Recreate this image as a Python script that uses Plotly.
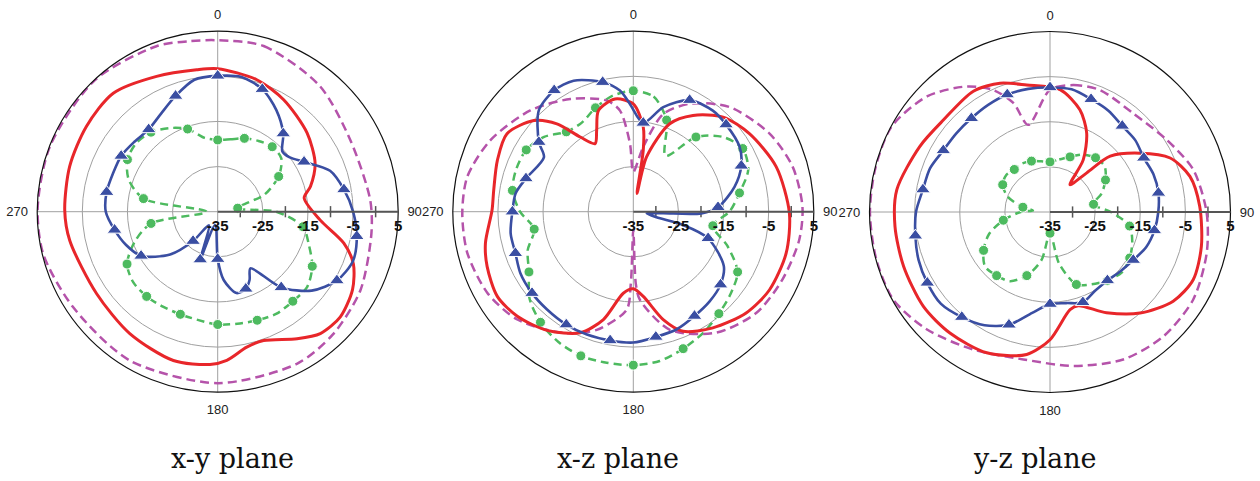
import plotly.graph_objects as go

# ---------------- data: x-y plane ----------------
XY_RED_THETA = [0, 16.5, 30.5, 48.6, 63.6, 74.8, 81, 94.7, 104, 111, 120, 130.6, 139.9, 148, 160.4, 167.9,
                176.5, 182.9, 196.6, 215.8, 236, 259, 270.6, 287, 303, 318.6, 335.7, 351.6, 360]
XY_RED_R = [-3.3, -4.5, -6.2, -8.6, -10.9, -13.7, -15.6, -12.2, -6.2, -2.8, -0.5, 0.8, 0.3, -1.8, -4.7, -4.3,
            -2.0, -1.1, -0.6, -1.7, -2.6, -1.6, -1.1, -0.7, -0.3, 0.0, -2.1, -3.2, -3.3]

XY_MAG_THETA = [0, 15.5, 39, 61.6, 85.6, 98, 118.8, 136.8, 152.5, 180, 210.6, 236.6, 256.6, 271.6, 291.4,
                317, 339.7, 350.8, 360]
XY_MAG_R = [3.0, 3.1, 0.9, -1.6, -1.1, -0.6, 1.1, 2.3, 3.0, 3.0, 3.3, 3.4, 4.8, 4.9, 4.9, 4.9, 4.1, 3.3, 3.0]

XY_BLUE_THETA = [0, 10, 20, 30, 40, 47, 53, 60, 70, 80, 90, 100, 110, 120, 130, 140, 150, 155, 160, 167, 175,
                 180, 191, 200, 213, 220, 228, 240, 250, 260, 270, 280, 290, 300, 310, 320, 330, 340, 350, 360]
XY_BLUE_R = [-4.9, -4.7, -6.1, -9.0, -12.4, -15.4, -15.0, -12.9, -8.5, -6.6, -5.0, -3.7, -3.1, -4.5, -7.8,
             -13.1, -20.5, -18.3, -16.8, -16.5, -19.8, -24.5, -32.0, -23.7, -31.4, -26.5, -20.8, -15.4, -13.4,
             -11.8, -10.2, -10.0, -10.3, -10.3, -10.9, -11.2, -9.9, -7.7, -5.3, -4.9]
XY_BLUE_MARKS = [0, 20, 40, 60, 80, 100, 120, 140, 160, 180, 200, 220, 240, 260, 280, 300, 320, 340]

XY_GREEN_THETA = [0, 10, 20, 30, 40, 50, 60, 70, 80, 90, 100, 110, 120, 130, 140, 150, 160, 170, 180, 190,
                  200, 210, 220, 230, 240, 250, 260, 270, 280, 290, 300, 310, 320, 330, 340, 350, 360]
XY_GREEN_R = [-19.1, -18.7, -17.7, -16.9, -16.2, -16.6, -19.4, -24.0, -30.5, -22.0, -15.8, -13.5, -10.8, -9.1,
              -9.1, -8.9, -9.4, -9.8, -10.0, -10.6, -10.8, -10.7, -10.5, -10.6, -11.8, -15.4, -20.0, -32.5,
              -18.3, -14.0, -11.9, -11.4, -12.0, -13.6, -15.5, -18.4, -19.1]
XY_GREEN_MARKS = [0, 20, 40, 60, 80, 100, 120, 140, 160, 180, 200, 220, 240, 260, 280, 300, 320, 340]

# ---------------- data: x-z plane ----------------
XZ_RED_THETA = [0, 6.7, 9.2, 11.5, 13.6, 22.5, 31.8, 43.5, 56.1, 72.6, 90.6, 105.2, 119.8, 131.9, 145.6, 157.4,
                164.5, 173.3, 180, 187, 195.5, 203.7, 216, 228, 238.1, 249.4, 258, 270.7, 278.8, 290.7, 301.7,
                312.5, 319, 324.6, 330.7, 335.8, 341, 350.8, 360]
XZ_RED_R = [-11.1, -16.1, -21.2, -30.9, -22.5, -13.9, -9.9, -6.1, -4.0, -1.8, -0.4, 0.1, -0.2, -1.4, -3.8, -6.3,
            -10.2, -16.1, -17.9, -16.8, -10.2, -5.7, -2.5, -0.4, 0.5, -0.4, -1.5, -3.7, -3.7, -2.8, -2.1,
            -5.1, -9.2, -14.7, -17.7, -15.2, -11.3, -9.7, -11.1]

XZ_MAG_THETA = [0, 8.7, 17, 27.6, 42.6, 60.2, 74.3, 88.3, 99.6, 114.5, 129.5, 145.6, 162.8, 175.7, 178, 180,
                182, 183.9, 197.2, 209.9, 227.1, 240.9, 256, 269.4, 281.9, 296.6, 314.5, 330.8, 346.6, 352.5,
                357.2, 360]
XZ_MAG_R = [-26.2, -20.5, -12.4, -8.0, -3.5, -0.2, 1.7, 2.5, 2.3, 1.3, 0.3, -2.5, -7.6, -15.4, -19.0, -31.0,
            -19.0, -13.2, -7.6, -4.0, 0.1, 2.0, 2.9, 2.9, 2.6, 0.4, -3.0, -6.4, -9.7, -12.4, -19.9, -26.2]

XZ_BLUE_THETA = [6.4, 16, 26.8, 38.2, 46.8, 58.6, 67, 76.2, 87, 91.4, 93, 97, 103.6, 105, 109.6, 121, 129.9,
                 139.6, 149.6, 159.9, 169.8, 180, 190.2, 200.7, 210.7, 221.4, 231.2, 241.4, 250.6, 260, 270,
                 278.8, 287.2, 301.4, 306.4, 317, 326.9, 335.5, 346.7, 353.7, 358.2, 366.4]
XZ_BLUE_R = [-15.2, -10.9, -7.3, -6.5, -6.8, -7.4, -9.0, -11.9, -16.2, -19.9, -28.4, -32.0, -29.7, -23.6, -17.4,
             -11.6, -9.8, -8.9, -8.2, -7.2, -6.8, -6.0, -6.0, -5.9, -5.9, -6.1, -6.2, -6.5, -7.3, -7.4, -8.2,
             -8.6, -10.1, -11.8, -9.0, -4.3, -2.9, -3.1, -5.5, -8.0, -11.1, -15.2]
XZ_BLUE_MARKS = [6.4, 26.8, 46.8, 67, 87, 109.6, 129.9, 149.6, 169.8, 190.2, 210.7, 231.2, 250.6, 270, 287.2,
                 306.4, 326.9, 346.7]

XZ_GREEN_THETA = XY_GREEN_THETA
XZ_GREEN_R = [-8.2, -9.1, -13.4, -20.7, -13.4, -9.2, -7.0, -7.9, -11.1, -13.7, -17.1, -12.8, -8.3, -6.8, -5.5,
              -4.0, -2.7, -1.4, -1.0, -1.0, -1.0, -1.7, -3.0, -5.0, -8.3, -10.1, -12.7, -9.9, -7.8, -7.4, -7.6,
              -9.2, -11.9, -12.2, -10.5, -8.9, -8.2]
XZ_GREEN_MARKS = XY_GREEN_MARKS

# ---------------- data: y-z plane ----------------
YZ_RED_THETA = [4.7, 16.3, 24.9, 32.5, 36.2, 43.2, 47.2, 56.8, 65.8, 75.7, 87.8, 102.8, 115.3, 125.9, 138.3,
                150.7, 163.2, 168.4, 180, 189.3, 204.2, 219.6, 233.3, 249.7, 264.7, 278.3, 296.8, 310.9, 327.6,
                338.8, 349.6, 364.7]
YZ_RED_R = [-7.8, -11.4, -15.7, -21.3, -27.5, -23.1, -16.8, -11.2, -5.8, -3.0, -1.8, -0.6, 0.1, -1.3, -5.0,
            -9.4, -13.3, -12.9, -6.7, -3.0, -0.8, -0.2, 0.0, -0.4, -0.5, -0.7, -2.7, -3.8, -3.3, -4.4, -6.4,
            -7.8]

YZ_MAG_THETA = [0, 10.4, 22.2, 40.1, 58.2, 73.5, 90, 104.7, 121.5, 137.6, 153.6, 171.4, 190.2, 209.1, 226.3,
                240.8, 255, 270, 284, 298.2, 313.2, 326.4, 335.1, 341.4, 346, 360]
YZ_MAG_R = [-7.9, -6.4, -5.8, -6.4, -4.6, -1.9, -0.3, 0.9, 2.2, 2.3, 1.5, -0.5, -1.8, -0.1, 2.7, 4.8, 4.9, 4.9,
            4.9, 4.9, 2.4, -1.6, -5.2, -9.5, -15.1, -7.9]

YZ_BLUE_THETA = XY_GREEN_THETA
YZ_BLUE_R = [-7.4, -7.4, -8.4, -9.1, -10.1, -10.3, -11.0, -10.6, -10.6, -11.0, -11.5, -12.3, -13.7, -14.6,
             -15.2, -14.9, -13.7, -14.5, -14.6, -12.3, -8.4, -6.0, -4.6, -3.4, -3.6, -4.0, -4.7, -5.3, -6.4,
             -6.7, -7.7, -7.9, -7.9, -7.6, -7.3, -7.3, -7.4]
YZ_BLUE_MARKS = XY_GREEN_MARKS

YZ_GREEN_THETA = [0, 10, 20, 30, 40, 50, 60, 70, 80, 90, 100, 110, 120, 130, 140, 150, 160, 170, 180, 190, 200,
                  210, 220, 230, 240, 250, 260, 270, 275, 280, 290, 300, 310, 320, 330, 340, 350, 360]
YZ_GREEN_R = [-23.9, -23.2, -22.0, -20.3, -19.3, -19.2, -20.8, -22.8, -25.2, -21.5, -17.1, -15.6, -14.6, -14.2,
              -15.2, -16.5, -17.9, -23.4, -30.3, -24.2, -20.0, -17.3, -16.6, -16.2, -18.0, -20.6, -24.5, -28.5,
              -31.2, -28.9, -25.0, -22.9, -22.3, -22.7, -22.6, -23.0, -23.6, -23.9]
YZ_GREEN_MARKS = XY_GREEN_MARKS

TITLES = ["x-y plane", "x-z plane", "y-z plane"]
RADIAL_TICKS = [-35, -25, -15, -5, 5]
MINOR_TICKS = [-30, -20, -10, 0]
ANGLE_TICKS = [0, 90, 180, 270]

# ---------------- styling ----------------
RED = "#e8262a"
MAG = "#b553aa"
BLUE = "#3a4ea2"
GREEN = "#4dba5f"

W, H = 1260, 481
CENTERS = [(217.7, 211.7), (633.3, 211.7), (1050.0, 212.0)]
RADIUS = 180.5
TITLE_X = [232, 618, 1035]
TITLE_Y = 458

fig = go.Figure()

planes = [
    dict(red=(XY_RED_THETA, XY_RED_R), mag=(XY_MAG_THETA, XY_MAG_R),
         blue=(XY_BLUE_THETA, XY_BLUE_R, XY_BLUE_MARKS), green=(XY_GREEN_THETA, XY_GREEN_R, XY_GREEN_MARKS)),
    dict(red=(XZ_RED_THETA, XZ_RED_R), mag=(XZ_MAG_THETA, XZ_MAG_R),
         blue=(XZ_BLUE_THETA, XZ_BLUE_R, XZ_BLUE_MARKS), green=(XZ_GREEN_THETA, XZ_GREEN_R, XZ_GREEN_MARKS)),
    dict(red=(YZ_RED_THETA, YZ_RED_R), mag=(YZ_MAG_THETA, YZ_MAG_R),
         blue=(YZ_BLUE_THETA, YZ_BLUE_R, YZ_BLUE_MARKS), green=(YZ_GREEN_THETA, YZ_GREEN_R, YZ_GREEN_MARKS)),
]

layout_polars = {}
for i, p in enumerate(planes):
    sub = "polar" if i == 0 else f"polar{i + 1}"
    cx, cy = CENTERS[i]

    # minor tick marks on the radial axis
    fig.add_trace(go.Scatterpolar(
        r=MINOR_TICKS, theta=[90] * len(MINOR_TICKS), mode="markers", subplot=sub,
        marker=dict(symbol="line-ns", size=8, line=dict(color="#555555", width=1.5)),
        hoverinfo="skip", cliponaxis=False))

    gt, gr, gm = p["green"]
    fig.add_trace(go.Scatterpolar(
        r=gr, theta=gt, mode="lines+markers", subplot=sub,
        line=dict(color=GREEN, width=2.5, dash="8px,5px", shape="spline", smoothing=0.8),
        marker=dict(symbol="circle", color=GREEN, opacity=1, size=[10 if (t in gm) else 0 for t in gt])))

    mt, mr = p["mag"]
    fig.add_trace(go.Scatterpolar(
        r=mr, theta=mt, mode="lines", subplot=sub,
        line=dict(color=MAG, width=2.5, dash="9px,5px", shape="spline", smoothing=0.8)))

    rt, rr = p["red"]
    fig.add_trace(go.Scatterpolar(
        r=rr, theta=rt, mode="lines", subplot=sub,
        line=dict(color=RED, width=3, shape="spline", smoothing=0.8)))

    bt, br, bm = p["blue"]
    fig.add_trace(go.Scatterpolar(
        r=br, theta=bt, mode="lines+markers", subplot=sub,
        line=dict(color=BLUE, width=2.6, shape="spline", smoothing=0.8),
        marker=dict(symbol="triangle-up", color=BLUE, opacity=1,
                    size=[13 if (t in bm) else 0 for t in bt])))

    layout_polars[sub] = dict(
        domain=dict(x=[(cx - RADIUS) / W, (cx + RADIUS) / W],
                    y=[(H - cy - RADIUS) / H, (H - cy + RADIUS) / H]),
        bgcolor="white",
        angularaxis=dict(rotation=90, direction="clockwise", tickmode="array",
                         tickvals=ANGLE_TICKS, ticktext=[str(a) for a in ANGLE_TICKS],
                         ticks="outside", ticklen=6, tickcolor="rgba(0,0,0,0)",
                         showline=True, linecolor="#111111", linewidth=1.2,
                         showgrid=True, gridcolor="#a0a0a0", gridwidth=1,
                         tickfont=dict(family="Liberation Sans, Arial", size=13, color="#222222")),
        radialaxis=dict(range=[-35, 5], tickmode="array", tickvals=RADIAL_TICKS,
                        ticktext=[str(v) for v in RADIAL_TICKS], angle=0, side="clockwise", ticks="",
                        showline=True, linecolor="#555555", linewidth=2,
                        showgrid=True, gridcolor="#a0a0a0", gridwidth=1,
                        tickfont=dict(family="Liberation Sans, Arial", size=15, color="#111111", weight="bold")),
    )

    fig.add_annotation(x=TITLE_X[i] / W, y=(H - TITLE_Y) / H, xref="paper", yref="paper",
                       text=TITLES[i], showarrow=False, xanchor="center", yanchor="middle",
                       font=dict(family="DejaVu Serif", size=27, color="#111111"))

fig.update_layout(width=W, height=H, margin=dict(l=0, r=0, t=0, b=0),
                  paper_bgcolor="white", plot_bgcolor="white", showlegend=False, **layout_polars)

fig.write_html("out.html", config={"displayModeBar": False},
               post_script="document.body.style.margin='0';")
